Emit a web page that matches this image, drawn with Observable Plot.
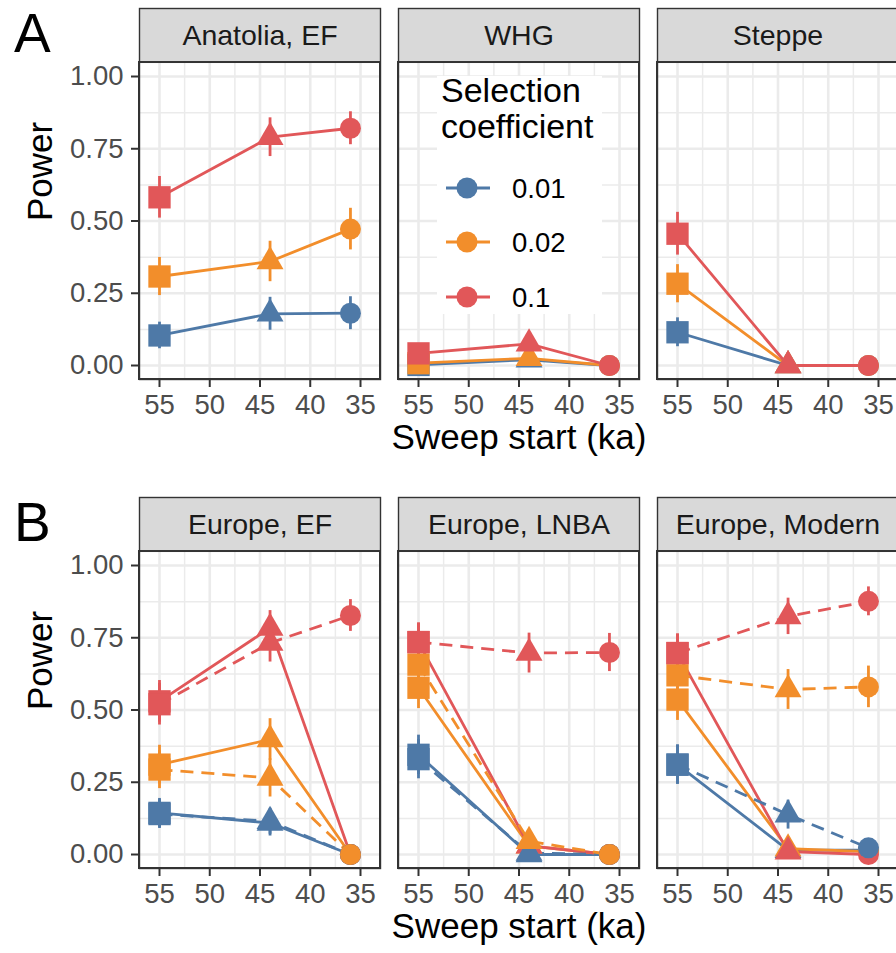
<!DOCTYPE html>
<html><head><meta charset="utf-8">
<script src="https://cdn.jsdelivr.net/npm/d3@7"></script>
<script src="https://cdn.jsdelivr.net/npm/@observablehq/plot@0.6"></script>
<style>
html,body{margin:0;padding:0;background:#fff;overflow:hidden;width:896px;height:953px;}
#root{position:relative;width:896px;height:953px;overflow:hidden;font-family:"Liberation Sans",Arial,Helvetica,sans-serif;}
.row{position:absolute;left:0;width:898px;height:464px;}
.overlay{position:absolute;left:0;top:0;pointer-events:none;}
</style></head>
<body><div id="root"></div>
<script>
// ---------------- data ----------------
const facetsA = ["Anatolia, EF", "WHG", "Steppe"];
const facetsB = ["Europe, EF", "Europe, LNBA", "Europe, Modern"];
const sweepStart = [55, 44, 36];              // ka
const shapes = ["square", "triangle", "circle"];
const coefficients = ["0.01", "0.02", "0.1"];
const colors = ["#4E79A7", "#F28E2B", "#E15759"];
const xTicks = [55, 50, 45, 40, 35];
const xMinor = [52.5, 47.5, 42.5, 37.5];
const yTicks = [0, 0.25, 0.5, 0.75, 1];
const yMinor = [0.125, 0.375, 0.625, 0.875];

// rows: coefficient 0.01, 0.02, 0.1 ; columns: sweep start 55, 44, 36 ka
const powAnatoliaEF = [[0.104, 0.179, 0.181], [0.308, 0.360, 0.472], [0.582, 0.790, 0.821]];
const errAnatoliaEF = [[0.046, 0.057, 0.057], [0.066, 0.070, 0.072], [0.072, 0.067, 0.057]];
const powWHG = [[0.002, 0.020, 0.000], [0.008, 0.025, 0.000], [0.042, 0.075, 0.000]];
const errWHG = [[0.008, 0.020, 0.000], [0.012, 0.022, 0.000], [0.028, 0.037, 0.000]];
const powSteppe = [[0.115, 0.000, 0.000], [0.283, 0.000, 0.000], [0.456, 0.000, 0.000]];
const errSteppe = [[0.050, 0.000, 0.000], [0.066, 0.000, 0.000], [0.074, 0.000, 0.000]];

const powEuropeEF = [[0.144, 0.109, 0.000], [0.311, 0.398, 0.000], [0.530, 0.784, 0.000]];
const errEuropeEF = [[0.050, 0.045, 0.000], [0.067, 0.072, 0.000], [0.072, 0.060, 0.000]];
const powEuropeEFDashed = [[0.140, 0.115, 0.000], [0.294, 0.265, 0.000], [0.520, 0.732, 0.827]];
const errEuropeEFDashed = [[0.050, 0.045, 0.000], [0.066, 0.066, 0.000], [0.072, 0.066, 0.055]];
const powLNBA = [[0.345, 0.000, 0.000], [0.577, 0.030, 0.000], [0.735, 0.030, 0.000]];
const errLNBA = [[0.068, 0.000, 0.000], [0.072, 0.025, 0.000], [0.066, 0.025, 0.000]];
const powLNBADashed = [[0.330, 0.005, 0.000], [0.657, 0.046, 0.000], [0.735, 0.697, 0.699]];
const errLNBADashed = [[0.068, 0.010, 0.000], [0.070, 0.030, 0.000], [0.066, 0.069, 0.066]];
const powModern = [[0.311, 0.015, 0.015], [0.536, 0.020, 0.010], [0.697, 0.010, 0.000]];
const errModern = [[0.068, 0.017, 0.017], [0.072, 0.020, 0.014], [0.066, 0.014, 0.000]];
const powModernDashed = [[0.311, 0.138, 0.023], [0.620, 0.571, 0.580], [0.697, 0.824, 0.876]];
const errModernDashed = [[0.068, 0.050, 0.022], [0.070, 0.069, 0.072], [0.066, 0.063, 0.050]];

// ---------------- build tables ----------------
function buildRows(facet, lt, pow, err) {
  const out = [];
  coefficients.forEach((c, i) => {
    sweepStart.forEach((x, j) => {
      out.push({facet, lt, coef: c, x, shape: shapes[j], power: pow[i][j], err: err[i][j], key: facet + "|" + lt + "|" + c});
    });
  });
  return out;
}
const rowsA = [
  ...buildRows(facetsA[0], "solid", powAnatoliaEF, errAnatoliaEF),
  ...buildRows(facetsA[1], "solid", powWHG, errWHG),
  ...buildRows(facetsA[2], "solid", powSteppe, errSteppe)
];
const rowsB = [
  ...buildRows(facetsB[0], "solid", powEuropeEF, errEuropeEF),
  ...buildRows(facetsB[0], "dashed", powEuropeEFDashed, errEuropeEFDashed),
  ...buildRows(facetsB[1], "solid", powLNBA, errLNBA),
  ...buildRows(facetsB[1], "dashed", powLNBADashed, errLNBADashed),
  ...buildRows(facetsB[2], "solid", powModern, errModern),
  ...buildRows(facetsB[2], "dashed", powModernDashed, errModernDashed)
];

const FONT = '"Liberation Sans", Arial, Helvetica, sans-serif';
const PANEL_LO = -0.0484, PANEL_HI = 1.0484, STRIP_HI = 1.2353;
const GRID = "#EBEBEB", DARK = "#333333";

function makePanel(facets, rows) {
  const common = {fx: "facet", x: "x", y: "power"};
  return Plot.plot({
    width: 898, height: 464,
    marginLeft: 139, marginRight: 0, marginTop: 8, marginBottom: 85,
    style: {fontFamily: FONT, fontSize: "27px", background: "transparent", maxWidth: "none", overflow: "visible"},
    fx: {domain: facets, paddingInner: 18 / 259, paddingOuter: 0, round: false, axis: null, label: null},
    x: {domain: [55, 35], insetLeft: 20, insetRight: 20, axis: null},
    y: {domain: [PANEL_LO, STRIP_HI], axis: null},
    color: {domain: coefficients, range: colors},
    marks: [
      // strip background
      Plot.rect(facets, {fx: d => d, y1: PANEL_HI, y2: STRIP_HI, fill: "#D9D9D9"}),
      // grid
      Plot.ruleY(yMinor, {stroke: GRID, strokeWidth: 1.5}),
      Plot.ruleX(xMinor, {y1: PANEL_LO, y2: PANEL_HI, stroke: GRID, strokeWidth: 1.5}),
      Plot.ruleY(yTicks, {stroke: GRID, strokeWidth: 2.6}),
      Plot.ruleX(xTicks, {y1: PANEL_LO, y2: PANEL_HI, stroke: GRID, strokeWidth: 2.6}),
      // data lines
      Plot.line(rows.filter(d => d.lt === "solid"), {...common, z: "key", stroke: "coef", strokeWidth: 2.8, strokeLinecap: "butt"}),
      Plot.line(rows.filter(d => d.lt === "dashed"), {...common, z: "key", stroke: "coef", strokeWidth: 2.8, strokeLinecap: "butt", strokeDasharray: "13,8"}),
      // error bars
      Plot.ruleX(rows.filter(d => d.err > 0), {fx: "facet", x: "x", y1: d => d.power - d.err, y2: d => d.power + d.err, stroke: "coef", strokeWidth: 2.8}),
      // points
      Plot.dot(rows.filter(d => d.shape === "square"), {...common, fill: "coef", symbol: "square", r: 12.6}),
      Plot.dot(rows.filter(d => d.shape === "triangle"), {...common, fill: "coef", symbol: "triangle", r: 10}),
      Plot.dot(rows.filter(d => d.shape === "circle"), {...common, fill: "coef", symbol: "circle", r: 10.5}),
      // borders
      Plot.frame({stroke: DARK, strokeWidth: 1.4}),
      Plot.rect([0], {y1: PANEL_LO, y2: PANEL_HI, fill: "none", stroke: DARK, strokeWidth: 2}),
      // strip labels
      Plot.text(facets, {fx: d => d, y: (PANEL_HI + STRIP_HI) / 2, text: d => d, fontSize: 28.5, fill: "#1A1A1A"}),
      // axes
      Plot.axisX({ticks: xTicks, tickSize: 8, tickPadding: 7, fontSize: 27.5, color: "#4D4D4D", stroke: DARK, strokeWidth: 2, label: null}),
      Plot.axisY({ticks: yTicks, tickSize: 8, tickPadding: 8, tickFormat: d3.format(".2f"), fontSize: 27.5, color: "#4D4D4D", stroke: DARK, strokeWidth: 2, label: null}),
      // axis titles
      Plot.text([facets[0]], {fx: d => d, y: 0.5, text: () => "Power", frameAnchor: "left", rotate: -90, dx: -99, fontSize: 35, fill: "#000"}),
      Plot.text([facets[1]], {fx: d => d, text: () => "Sweep start (ka)", frameAnchor: "bottom", dy: 69, fontSize: 35, fill: "#000"})
    ]
  });
}

function addRow(top, facets, rows, tag, withLegend) {
  const row = document.createElement("div");
  row.className = "row";
  row.style.top = top + "px";
  row.appendChild(makePanel(facets, rows));
  let svg = `<svg class="overlay" width="898" height="464" xmlns="http://www.w3.org/2000/svg" font-family='${FONT}'>`;
  svg += `<text x="14" y="52" font-size="55" fill="#000">${tag}</text>`;
  if (withLegend) {
    svg += `<rect x="437" y="76" width="165" height="238" fill="#fff"/>`;
    svg += `<text x="441" y="102" font-size="34" fill="#000">Selection</text>`;
    svg += `<text x="441" y="138" font-size="34" fill="#000">coefficient</text>`;
    const ys = [188, 242, 297];
    coefficients.forEach((c, i) => {
      svg += `<line x1="446" x2="490" y1="${ys[i]}" y2="${ys[i]}" stroke="${colors[i]}" stroke-width="2.8"/>`;
      svg += `<circle cx="467" cy="${ys[i]}" r="10.5" fill="${colors[i]}"/>`;
      svg += `<text x="512" y="${ys[i] + 9.8}" font-size="27.5" fill="#000">${c}</text>`;
    });
  }
  svg += `</svg>`;
  row.insertAdjacentHTML("beforeend", svg);
  document.getElementById("root").appendChild(row);
}

addRow(0, facetsA, rowsA, "A", true);
addRow(489, facetsB, rowsB, "B", false);
</script>
</body></html>
